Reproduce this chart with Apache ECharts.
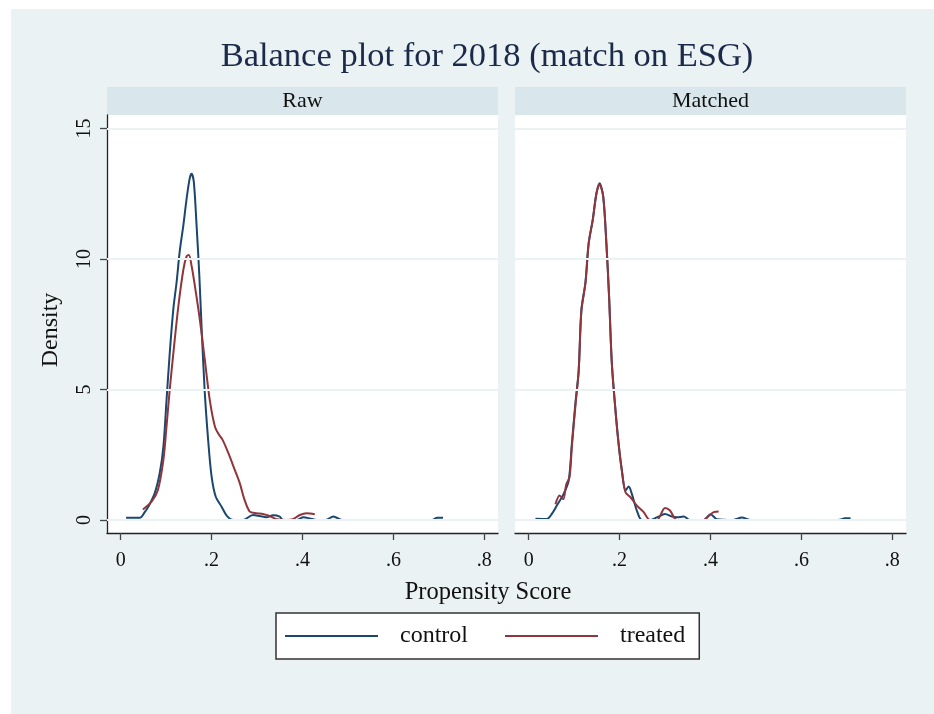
<!DOCTYPE html>
<html>
<head>
<meta charset="utf-8">
<script src="https://cdn.jsdelivr.net/npm/echarts@6/dist/echarts.min.js"></script>
<style>
  html, body { margin: 0; padding: 0; background: #ffffff; }
  #chart { width: 934px; height: 714px; }
</style>
</head>
<body>
<div id="chart"></div>
<script>
// Kernel density of the propensity score, before and after matching
const rawControlX = [0.012, 0.042, 0.053, 0.061, 0.075, 0.086, 0.094, 0.101, 0.108, 0.116, 0.123, 0.130, 0.138, 0.145, 0.152, 0.156, 0.161, 0.167, 0.173, 0.178, 0.185, 0.193, 0.200, 0.209, 0.222, 0.234, 0.248, 0.269, 0.291, 0.306, 0.321, 0.335, 0.350, 0.357, 0.387, 0.402, 0.416, 0.431, 0.450, 0.468, 0.487, 0.685, 0.696, 0.709];
const rawControlY = [0.08, 0.08, 0.3, 0.51, 1.03, 1.8, 2.8, 4.6, 6.4, 8.1, 9.1, 10.3, 11.3, 12.3, 13.1, 13.27, 12.95, 11.3, 9.4, 7.4, 4.9, 2.95, 1.67, 0.9, 0.51, 0.15, 0, 0, 0.19, 0.15, 0.1, 0.18, 0.13, 0, 0, 0.1, 0.06, 0, 0, 0.13, 0, 0, 0.08, 0.08];

const rawTreatedX = [0.049, 0.068, 0.082, 0.094, 0.101, 0.108, 0.116, 0.127, 0.138, 0.145, 0.150, 0.156, 0.163, 0.174, 0.185, 0.196, 0.207, 0.215, 0.224, 0.237, 0.251, 0.262, 0.272, 0.284, 0.299, 0.313, 0.328, 0.343, 0.365, 0.379, 0.394, 0.409, 0.427];
const rawTreatedY = [0.4, 0.7, 1.15, 2.3, 3.6, 5.0, 6.4, 8.2, 9.6, 10.1, 10.15, 9.74, 9.0, 7.7, 6.15, 4.6, 3.6, 3.3, 3.08, 2.56, 1.92, 1.41, 0.8, 0.32, 0.26, 0.23, 0.15, 0.03, 0, 0.03, 0.19, 0.26, 0.22];

const matchedControlX = [0.015, 0.040, 0.051, 0.062, 0.077, 0.088, 0.095, 0.103, 0.110, 0.116, 0.125, 0.132, 0.141, 0.149, 0.156, 0.164, 0.171, 0.177, 0.183, 0.191, 0.198, 0.205, 0.213, 0.220, 0.227, 0.238, 0.249, 0.267, 0.282, 0.300, 0.315, 0.326, 0.341, 0.355, 0.385, 0.400, 0.414, 0.450, 0.469, 0.487, 0.681, 0.696, 0.708];
const matchedControlY = [0.05, 0.04, 0.23, 0.55, 1.0, 1.5, 2.9, 4.5, 5.7, 8.05, 9.1, 10.6, 11.5, 12.5, 12.9, 12.4, 10.6, 8.56, 6.0, 4.2, 2.9, 1.9, 1.13, 1.28, 1.0, 0.36, 0, 0, 0.1, 0.23, 0.13, 0.1, 0.13, 0, 0, 0.22, 0.03, 0, 0.09, 0, 0, 0.065, 0.07];

const matchedTreatedX = [0.059, 0.068, 0.076, 0.083, 0.090, 0.095, 0.103, 0.110, 0.116, 0.125, 0.132, 0.141, 0.149, 0.156, 0.164, 0.171, 0.177, 0.183, 0.191, 0.198, 0.205, 0.213, 0.224, 0.238, 0.253, 0.267, 0.282, 0.300, 0.311, 0.326, 0.385, 0.396, 0.407, 0.418];
const matchedTreatedY = [0.6, 0.94, 0.8, 1.38, 1.64, 2.8, 4.4, 5.7, 8.0, 9.1, 10.6, 11.5, 12.5, 12.86, 12.4, 10.6, 8.5, 6.0, 4.2, 2.9, 1.9, 1.06, 0.87, 0.55, 0.3, 0, 0, 0.46, 0.36, 0, 0, 0.15, 0.3, 0.32];

const xTicks = [0, 0.2, 0.4, 0.6, 0.8];
const xTickLabels = ['0', '.2', '.4', '.6', '.8'];
const yTicks = [0, 5, 10, 15];
const yTickLabels = ['0', '5', '10', '15'];
const panelTitles = ['Raw', 'Matched'];
const seriesNames = ['control', 'treated'];

const NAVY = '#1a476f';
const MAROON = '#90353b';
const BG = '#eaf2f3';
const STRIP = '#d9e6eb';
const FONT = '"Liberation Serif", "Times New Roman", serif';

const zip = (xs, ys) => xs.map((x, i) => [x, ys[i]]);

const chart = echarts.init(document.getElementById('chart'), null, { renderer: 'canvas' });

const panels = [
  { left: 107, width: 391 },
  { left: 515, width: 391 }
];
const gridTop = 115, gridHeight = 418;

function xAxisFor(i) {
  return {
    type: 'value', gridIndex: i, min: -0.03, max: 0.83,
    axisLine: { show: true, onZero: false, lineStyle: { color: '#222', width: 1.3 } },
    axisTick: { show: true, customValues: xTicks, length: 7, lineStyle: { color: '#444', width: 1.3 } },
    axisLabel: {
      show: true, customValues: xTicks, margin: 18,
      formatter: v => xTickLabels[xTicks.findIndex(t => Math.abs(t - v) < 1e-9)],
      fontFamily: FONT, fontSize: 20, color: '#111'
    },
    splitLine: { show: false }
  };
}

function yAxisFor(i) {
  const showIt = i === 0;
  return {
    type: 'value', gridIndex: i, min: -0.5, max: 15.52,
    axisLine: { show: showIt, onZero: false, lineStyle: { color: '#222', width: 1.3 } },
    axisTick: { show: showIt, customValues: yTicks, length: 7, lineStyle: { color: '#444', width: 1.3 } },
    axisLabel: {
      show: showIt, customValues: yTicks, rotate: 90, margin: 12,
      formatter: v => yTickLabels[yTicks.indexOf(Math.round(v))],
      fontFamily: FONT, fontSize: 20, color: '#111'
    },
    splitLine: { show: false }
  };
}

function gridLines(i) {
  return {
    type: 'line', xAxisIndex: i, yAxisIndex: i, data: [], silent: true, z: 1,
    markLine: {
      silent: true, symbol: 'none', animation: false,
      label: { show: false },
      lineStyle: { color: BG, width: 2, type: 'solid' },
      data: yTicks.map(v => ({ yAxis: v }))
    }
  };
}

function curve(name, i, xs, ys, color) {
  return {
    name, type: 'line', xAxisIndex: i, yAxisIndex: i,
    data: zip(xs, ys), smooth: 0.3, symbol: 'none', z: 3,
    lineStyle: { color, width: 2 }, itemStyle: { color }
  };
}

const graphic = [
  { type: 'rect', shape: { x: 11, y: 9, width: 923, height: 705 }, style: { fill: BG }, z: -10, silent: true },
  { type: 'text', x: 487, y: 57, style: { text: 'Balance plot for 2018 (match on ESG)', font: '34.5px ' + FONT, fill: '#1c2a4a', textAlign: 'center', textVerticalAlign: 'middle' } },
  { type: 'text', x: 488, y: 593, style: { text: 'Propensity Score', font: '24.5px ' + FONT, fill: '#111', textAlign: 'center', textVerticalAlign: 'middle' } },
  { type: 'text', x: 51, y: 330, rotation: Math.PI / 2, style: { text: 'Density', font: '24px ' + FONT, fill: '#111', textAlign: 'center', textVerticalAlign: 'middle' } }
];
panels.forEach((p, i) => {
  graphic.push({ type: 'rect', shape: { x: p.left, y: 87, width: p.width, height: 28 }, style: { fill: STRIP }, silent: true });
  graphic.push({ type: 'text', x: p.left + p.width / 2, y: 101, style: { text: panelTitles[i], font: '22px ' + FONT, fill: '#111', textAlign: 'center', textVerticalAlign: 'middle' } });
});

chart.setOption({
  animation: false,
  backgroundColor: '#ffffff',
  graphic,
  grid: panels.map(p => ({
    left: p.left, width: p.width, top: gridTop, height: gridHeight,
    show: true, backgroundColor: '#ffffff', borderWidth: 0
  })),
  xAxis: [xAxisFor(0), xAxisFor(1)],
  yAxis: [yAxisFor(0), yAxisFor(1)],
  legend: {
    data: seriesNames.map((n, k) => ({ name: n, itemStyle: { color: k === 0 ? NAVY : MAROON } })),
    left: 276, top: 613, width: 424,
    icon: 'rect', itemWidth: 93, itemHeight: 2, itemGap: 37,
    padding: [11, 14, 11, 9],
    backgroundColor: '#ffffff', borderColor: '#333', borderWidth: 1.5, borderRadius: 0,
    textStyle: { fontFamily: FONT, fontSize: 24, color: '#111', padding: [0, 0, 0, 17] },
    selectedMode: false
  },
  series: [
    gridLines(0), gridLines(1),
    curve('control', 0, rawControlX, rawControlY, NAVY),
    curve('treated', 0, rawTreatedX, rawTreatedY, MAROON),
    curve('control', 1, matchedControlX, matchedControlY, NAVY),
    curve('treated', 1, matchedTreatedX, matchedTreatedY, MAROON)
  ]
});
</script>
</body>
</html>
